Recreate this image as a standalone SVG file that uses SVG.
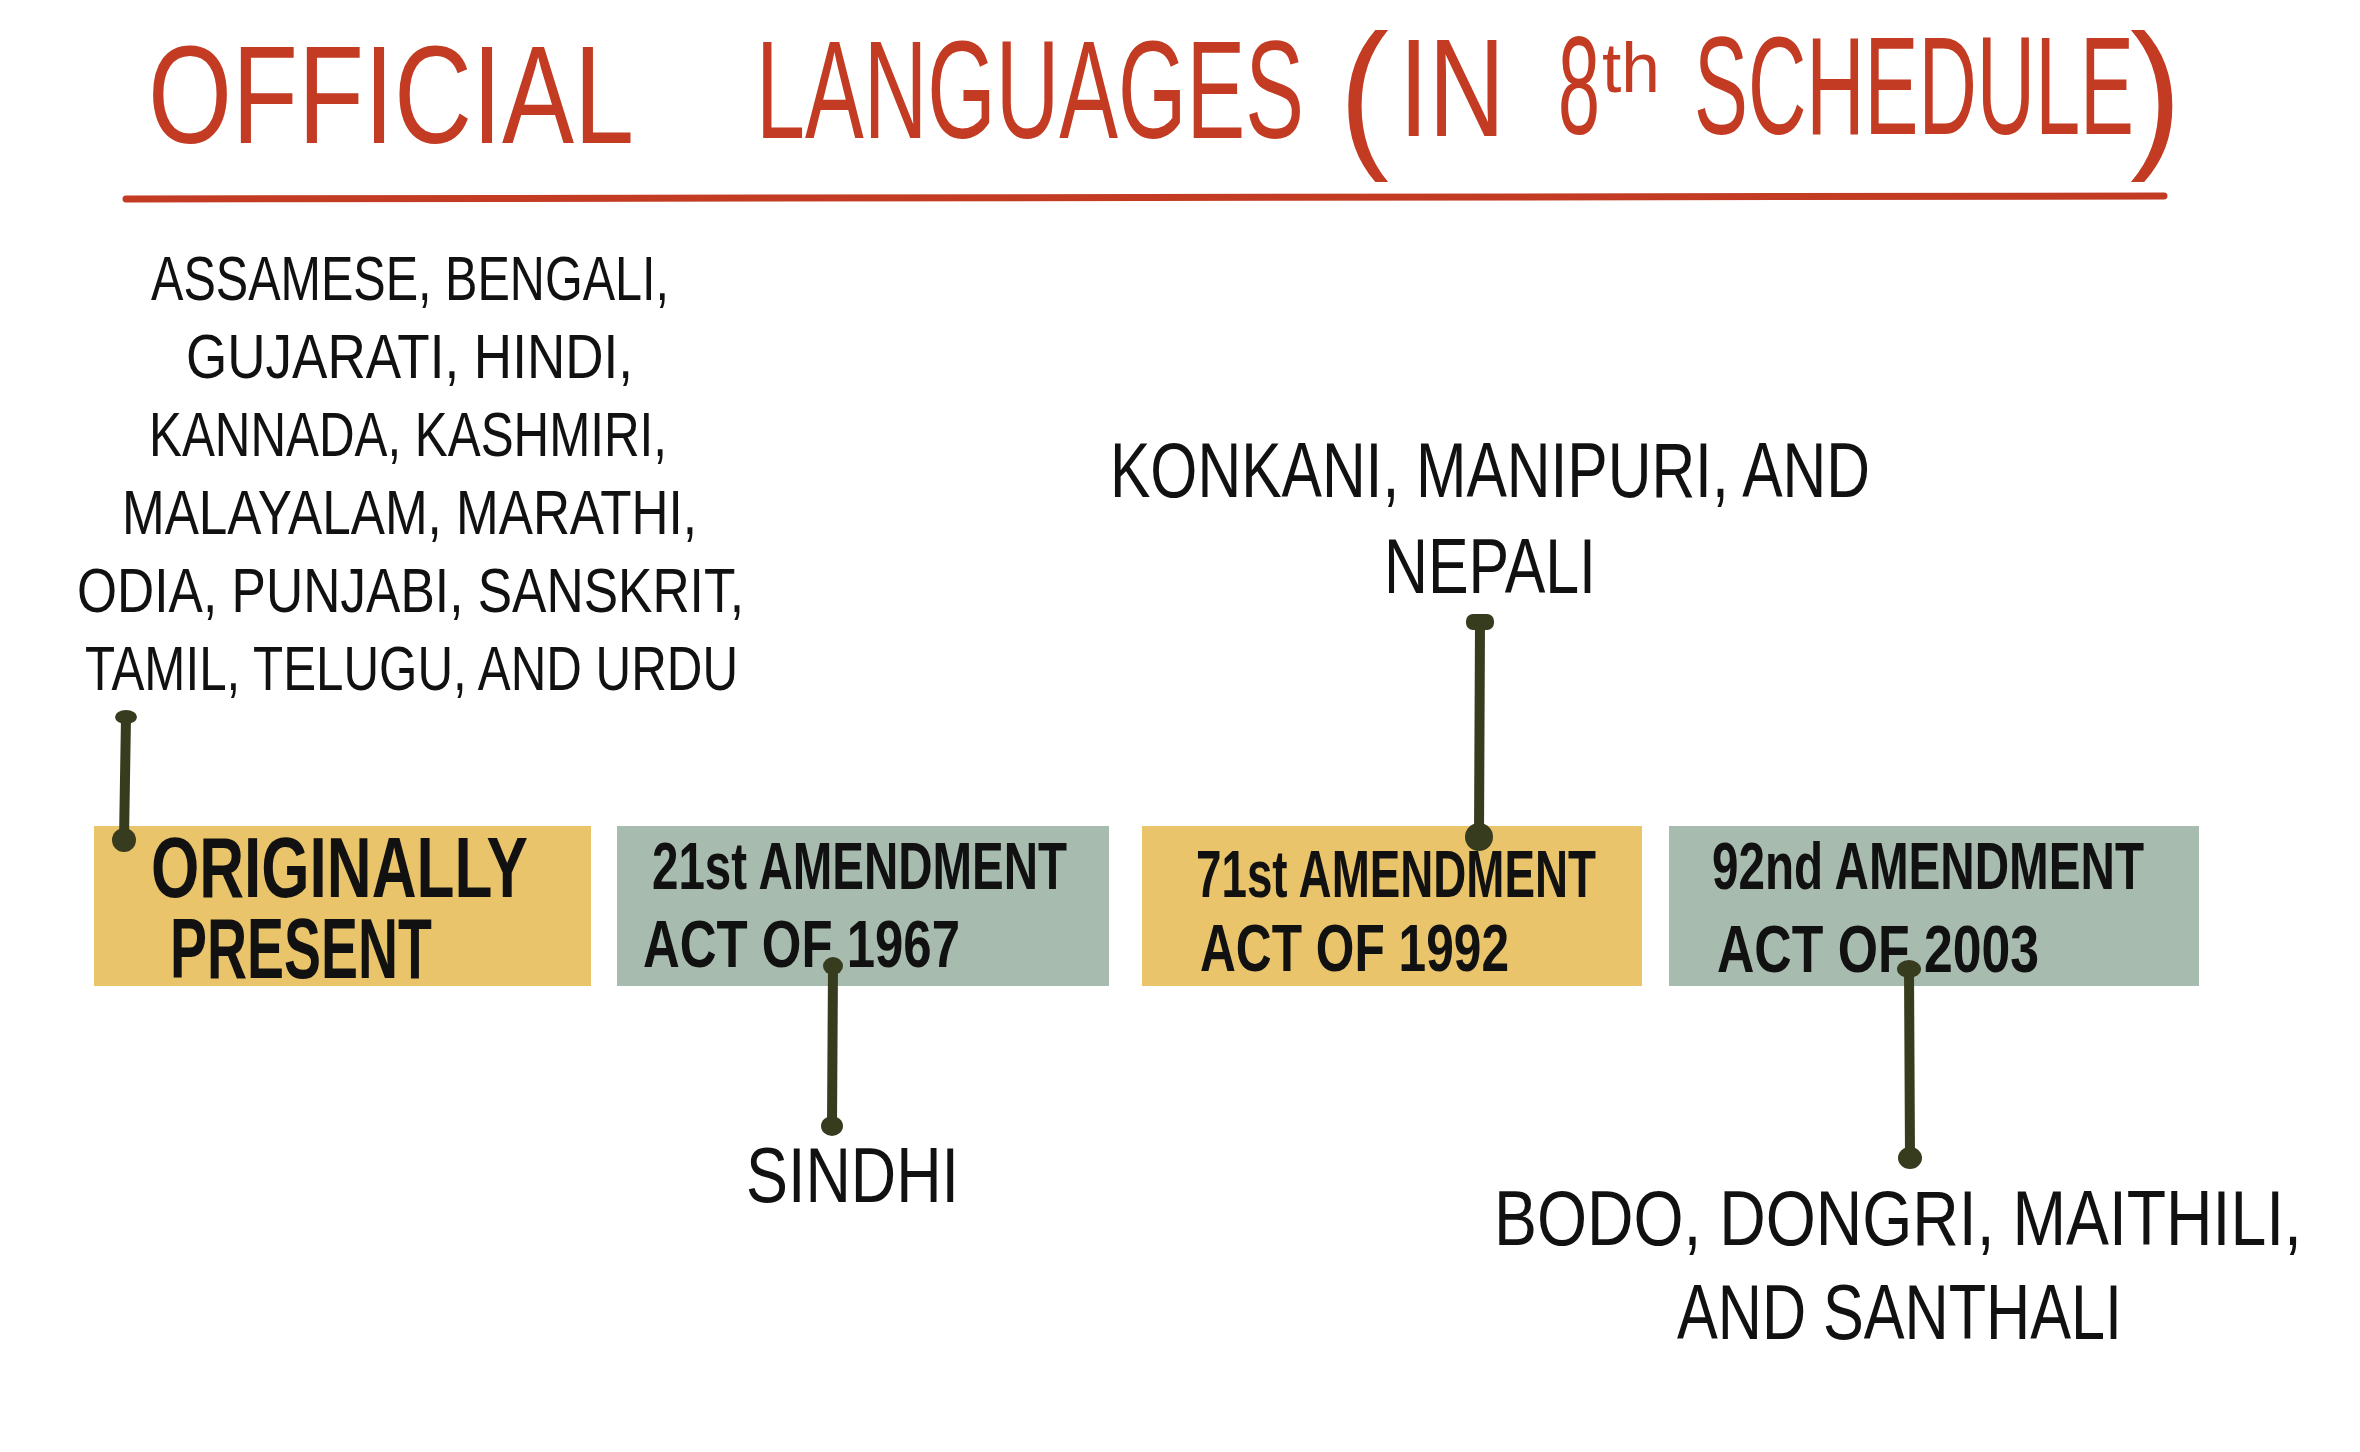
<svg xmlns="http://www.w3.org/2000/svg" width="2360" height="1452" viewBox="0 0 2360 1452">
<style>
.title{font-family:"Liberation Sans",Arial,sans-serif;fill:#C23B22;font-size:140px}
.list{font-family:"Liberation Sans",Arial,sans-serif;fill:#111;font-size:63px}
.big{font-family:"Liberation Sans",Arial,sans-serif;fill:#111;font-size:78px}
.b1{font-family:"Liberation Sans",Arial,sans-serif;fill:#111;font-size:86px;font-weight:bold}
.b2{font-family:"Liberation Sans",Arial,sans-serif;fill:#111;font-size:66px;font-weight:bold}
.yel{fill:#E9C46A}
.grn{fill:#A7BBAF}
.con{stroke:#383C1E;stroke-width:10;fill:none;stroke-linecap:round}
.dot{fill:#383C1E}
</style>
<rect width="2360" height="1452" fill="#fff"/>
<g id="title">
<text class="title" x="148" y="143" textLength="486" lengthAdjust="spacingAndGlyphs">OFFICIAL</text>
<text class="title" x="756" y="138" textLength="548" lengthAdjust="spacingAndGlyphs">LANGUAGES</text>
<text class="title" x="1339" y="148" style="font-size:164px" textLength="50" lengthAdjust="spacingAndGlyphs">(</text>
<text class="title" x="1399" y="136" textLength="106" lengthAdjust="spacingAndGlyphs">IN</text>
<text class="title" x="1558" y="134" textLength="42" lengthAdjust="spacingAndGlyphs">8</text>
<text class="title" x="1602" y="92" style="font-size:70px" textLength="58" lengthAdjust="spacingAndGlyphs">th</text>
<text class="title" x="1694" y="134" textLength="440" lengthAdjust="spacingAndGlyphs">SCHEDULE</text>
<text class="title" x="2130" y="148" style="font-size:164px" textLength="52" lengthAdjust="spacingAndGlyphs">)</text>
<path d="M126 199 L2164 196" stroke="#C23B22" stroke-width="7" stroke-linecap="round" fill="none"/>
</g>
<g id="original-languages">
<text class="list" x="151" y="300" textLength="518" lengthAdjust="spacingAndGlyphs">ASSAMESE, BENGALI,</text>
<text class="list" x="186" y="378" textLength="447" lengthAdjust="spacingAndGlyphs">GUJARATI, HINDI,</text>
<text class="list" x="149" y="456" textLength="518" lengthAdjust="spacingAndGlyphs">KANNADA, KASHMIRI,</text>
<text class="list" x="122" y="534" textLength="575" lengthAdjust="spacingAndGlyphs">MALAYALAM, MARATHI,</text>
<text class="list" x="77" y="612" textLength="667" lengthAdjust="spacingAndGlyphs">ODIA, PUNJABI, SANSKRIT,</text>
<text class="list" x="85" y="690" textLength="653" lengthAdjust="spacingAndGlyphs">TAMIL, TELUGU, AND URDU</text>
</g>
<g id="box-original">
<rect class="yel" x="94" y="826" width="497" height="160"/>
<text class="b1" x="151" y="897" textLength="377" lengthAdjust="spacingAndGlyphs">ORIGINALLY</text>
<text class="b1" x="170" y="978" textLength="262" lengthAdjust="spacingAndGlyphs">PRESENT</text>
</g>
<g id="box-21st">
<rect class="grn" x="617" y="826" width="492" height="160"/>
<text class="b2" x="652" y="889" textLength="415" lengthAdjust="spacingAndGlyphs">21st AMENDMENT</text>
<text class="b2" x="643" y="967" textLength="317" lengthAdjust="spacingAndGlyphs">ACT OF 1967</text>
</g>
<g id="box-71st">
<rect class="yel" x="1142" y="826" width="500" height="160"/>
<text class="b2" x="1196" y="897" textLength="400" lengthAdjust="spacingAndGlyphs">71st AMENDMENT</text>
<text class="b2" x="1200" y="971" textLength="309" lengthAdjust="spacingAndGlyphs">ACT  OF  1992</text>
</g>
<g id="box-92nd">
<rect class="grn" x="1669" y="826" width="530" height="160"/>
<text class="b2" x="1712" y="889" textLength="432" lengthAdjust="spacingAndGlyphs">92nd  AMENDMENT</text>
<text class="b2" x="1717" y="972" textLength="322" lengthAdjust="spacingAndGlyphs">ACT  OF  2003</text>
</g>
<g id="label-konkani">
<text class="big" x="1110" y="497" textLength="760" lengthAdjust="spacingAndGlyphs">KONKANI, MANIPURI, AND</text>
<text class="big" x="1384" y="593" textLength="212" lengthAdjust="spacingAndGlyphs">NEPALI</text>
</g>
<g id="label-sindhi">
<text class="big" x="746" y="1202" textLength="213" lengthAdjust="spacingAndGlyphs">SINDHI</text>
</g>
<g id="label-bodo">
<text class="big" x="1494" y="1245" textLength="808" lengthAdjust="spacingAndGlyphs">BODO, DONGRI, MAITHILI,</text>
<text class="big" x="1677" y="1339" textLength="445" lengthAdjust="spacingAndGlyphs">AND SANTHALI</text>
</g>
<g id="connectors">
<path class="con" d="M126 717 L124 840"/>
<ellipse class="dot" cx="126" cy="717" rx="11" ry="7"/>
<circle class="dot" cx="124" cy="840" r="12"/>
<path class="con" d="M833 966 L832 1125"/>
<ellipse class="dot" cx="833" cy="966" rx="10" ry="9"/>
<ellipse class="dot" cx="832" cy="1126" rx="11" ry="10"/>
<path class="con" d="M1480 622 L1479 836"/>
<rect class="dot" x="1466" y="614" width="28" height="16" rx="7"/>
<circle class="dot" cx="1479" cy="837" r="14"/>
<path class="con" d="M1909 969 L1910 1158"/>
<ellipse class="dot" cx="1909" cy="969" rx="12" ry="9"/>
<ellipse class="dot" cx="1910" cy="1158" rx="12" ry="11"/>
</g>
</svg>
